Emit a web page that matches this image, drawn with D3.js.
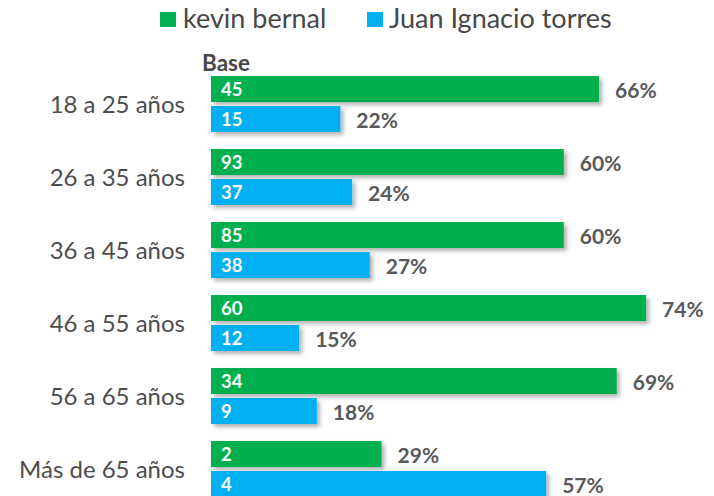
<!DOCTYPE html>
<html><head><meta charset="utf-8">
<script src="https://cdn.jsdelivr.net/npm/d3@7"></script>
<style>body{margin:0;background:#fff}svg{display:block}</style>
</head><body>
<script>
const categories = ["18 a 25 años","26 a 35 años","36 a 45 años","46 a 55 años","56 a 65 años","Más de 65 años"];
const seriesNames = ["kevin bernal","Juan Ignacio torres"];
const seriesColors = ["#00B050","#00B0F0"];
const kevinPct = [66,60,60,74,69,29];
const juanPct = [22,24,27,15,18,57];
const kevinBase = [45,93,85,60,34,2];
const juanBase = [15,37,38,12,9,4];

const W=714,H=496;
const svg=d3.select("body").append("svg").attr("width",W).attr("height",H);
const font="Lato, 'Open Sans', sans-serif";

const defs=svg.append("defs");
const f=defs.append("filter").attr("id","sh").attr("x","-5%").attr("y","-20%").attr("width","115%").attr("height","160%");
f.append("feDropShadow").attr("dx",3).attr("dy",3).attr("stdDeviation",2).attr("flood-color","#000").attr("flood-opacity",0.3);

const x=d3.scaleLinear().domain([0,100]).range([211,799]);
const y=d3.scaleBand().domain(categories).range([76,497]).paddingInner(17/73).paddingOuter(0);
const ys=d3.scaleBand().domain([0,1]).range([0,y.bandwidth()]).paddingInner(4/30);

const data=categories.map((c,i)=>({c,vals:[{s:0,p:kevinPct[i],b:kevinBase[i]},{s:1,p:juanPct[i],b:juanBase[i]}]}));

// legend
const leg=[{x:160,tx:183},{x:367,tx:389}];
seriesNames.forEach((n,i)=>{
  svg.append("rect").attr("x",leg[i].x).attr("y",12).attr("width",16).attr("height",15).attr("fill",seriesColors[i]);
  svg.append("text").attr("x",leg[i].tx).attr("y",28).attr("font-family",font).attr("font-size",27).attr("fill","#474747").text(n);
});

svg.append("text").attr("x",202).attr("y",71).attr("font-family",font).attr("font-weight","bold").attr("font-size",22.5).attr("fill","#474747").text("Base");

const g=svg.selectAll("g.cat").data(data).join("g").attr("class","cat").attr("transform",d=>`translate(0,${y(d.c)})`);
g.append("text").attr("x",185).attr("y",y.bandwidth()/2+9).attr("text-anchor","end").attr("font-family",font).attr("font-size",24).attr("fill","#4d4d4d").text(d=>d.c);

const b=g.selectAll("g.bar").data(d=>d.vals).join("g").attr("class","bar").attr("transform",d=>`translate(0,${ys(d.s)})`);
b.append("rect").attr("x",x(0)).attr("y",0).attr("width",d=>x(d.p)-x(0)).attr("height",ys.bandwidth()).attr("fill",d=>seriesColors[d.s]).attr("filter","url(#sh)");
b.append("text").attr("x",x(0)+10).attr("y",19.5).attr("font-family",font).attr("font-weight","bold").attr("font-size",18.5).attr("fill","#fff").text(d=>d.b);
b.append("text").attr("x",d=>x(d.p)+16).attr("y",ys.bandwidth()/2+9).attr("font-family",font).attr("font-weight","bold").attr("font-size",21).attr("fill","#595959").text(d=>d.p+"%");
</script>
</body></html>
